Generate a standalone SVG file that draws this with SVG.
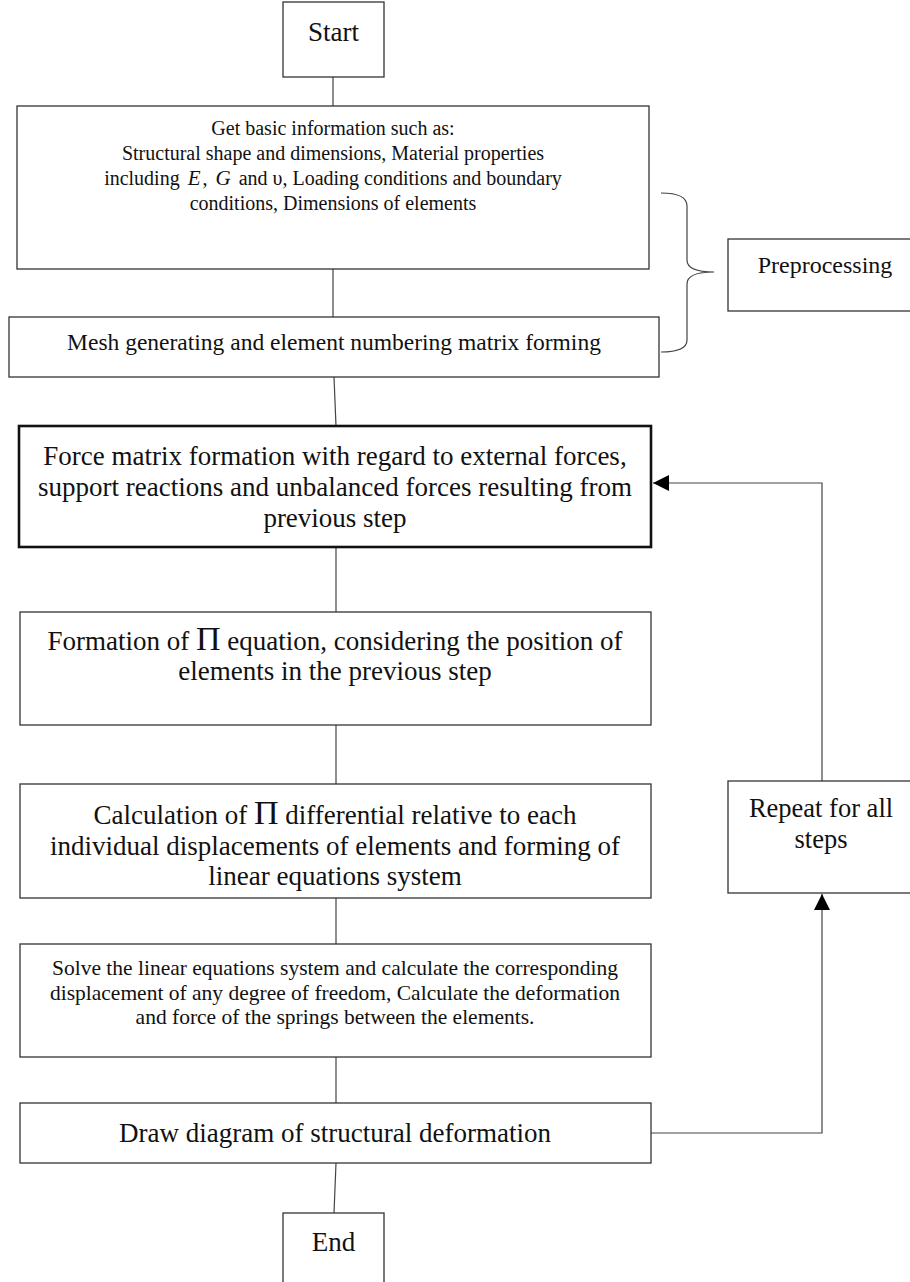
<svg xmlns="http://www.w3.org/2000/svg" width="910" height="1282" viewBox="0 0 910 1282">
<style>
.box{fill:#fff;stroke:#333;stroke-width:1.3}
.thick{fill:#fff;stroke:#111;stroke-width:2.6}
.t{font-family:"Liberation Serif","Times New Roman",serif;fill:#111;text-anchor:middle}
.c{fill:none;stroke:#444;stroke-width:1.2}
.pi{font-size:34px}
.big{font-size:27px}
.m{font-style:italic;font-size:21px}
</style>
<defs>
<marker id="ah" viewBox="0 0 16 16" refX="16" refY="8" markerWidth="16" markerHeight="16" markerUnits="userSpaceOnUse" orient="auto">
<path d="M0,0 L16,8 L0,16 Z" fill="#000"/>
</marker>
</defs>
<g id="connectors">
<line class="c" x1="333" y1="77" x2="333" y2="106"/>
<line class="c" x1="333" y1="269" x2="333" y2="317"/>
<line class="c" x1="334" y1="377" x2="336" y2="426"/>
<line class="c" x1="336" y1="547" x2="336" y2="612"/>
<line class="c" x1="336" y1="725" x2="336" y2="784"/>
<line class="c" x1="336" y1="898" x2="336" y2="944"/>
<line class="c" x1="336" y1="1057" x2="336" y2="1103"/>
<line class="c" x1="336" y1="1163" x2="334" y2="1213"/>
<polyline class="c" points="822,781 822,483 653,483" marker-end="url(#ah)"/>
<polyline class="c" points="651,1133 822,1133 822,894" marker-end="url(#ah)"/>
<path class="c" d="M661,193 Q687,193 687,206 L687,260 Q687,272 714,272 Q687,272 687,284 L687,340 Q687,352 661,352"/>
</g>
<g id="start">
<rect class="box" x="283" y="2" width="101" height="75"/>
<text class="t" x="333.5" y="41" font-size="27">Start</text>
</g>
<g id="basic-info">
<rect class="box" x="17" y="106" width="632" height="163"/>
<text class="t" x="333" y="135" font-size="20">Get basic information such as:</text>
<text class="t" x="333" y="160" font-size="20">Structural shape and dimensions, Material properties</text>
<text class="t" x="333" y="185" font-size="20">including <tspan class="m" dx="3">E</tspan><tspan dx="2">,</tspan> <tspan class="m" dx="3">G</tspan> <tspan dx="3">and</tspan> υ, Loading conditions and boundary</text>
<text class="t" x="333" y="210" font-size="20">conditions, Dimensions of elements</text>
</g>
<g id="mesh">
<rect class="box" x="9" y="317" width="650" height="60"/>
<text class="t" x="334" y="350" font-size="23.5">Mesh generating and element numbering matrix forming</text>
</g>
<g id="preprocessing">
<rect class="box" x="728" y="239" width="190" height="72"/>
<text class="t" x="825" y="273" font-size="24">Preprocessing</text>
</g>
<g id="force">
<rect class="thick" x="19" y="426" width="632" height="121"/>
<text class="t big" x="335" y="465">Force matrix formation with regard to external forces,</text>
<text class="t big" x="335" y="496">support reactions and unbalanced forces resulting from</text>
<text class="t big" x="335" y="527">previous step</text>
</g>
<g id="formation">
<rect class="box" x="20" y="612" width="631" height="113"/>
<text class="t big" x="335" y="650">Formation of <tspan class="pi">Π</tspan> equation, considering the position of</text>
<text class="t big" x="335" y="680">elements in the previous step</text>
</g>
<g id="calculation">
<rect class="box" x="20" y="784" width="631" height="114"/>
<text class="t big" x="335" y="824">Calculation of <tspan class="pi">Π</tspan> differential relative to each</text>
<text class="t big" x="335" y="855">individual displacements of elements and forming of</text>
<text class="t big" x="335" y="885">linear equations system</text>
</g>
<g id="solve">
<rect class="box" x="20" y="944" width="631" height="113"/>
<text class="t" x="335" y="975" font-size="21.5">Solve the linear equations system and calculate the corresponding</text>
<text class="t" x="335" y="1000" font-size="21.5">displacement of any degree of freedom, Calculate the deformation</text>
<text class="t" x="335" y="1024" font-size="21.5">and force of the springs between the elements.</text>
</g>
<g id="draw">
<rect class="box" x="20" y="1103" width="631" height="60"/>
<text class="t big" x="335" y="1142">Draw diagram of structural deformation</text>
</g>
<g id="repeat">
<rect class="box" x="728" y="781" width="190" height="112"/>
<text class="t" x="821" y="817" font-size="26.5">Repeat for all</text>
<text class="t" x="821" y="848" font-size="26.5">steps</text>
</g>
<g id="end">
<rect class="box" x="283" y="1213" width="101" height="90"/>
<text class="t" x="333.5" y="1251" font-size="27">End</text>
</g>
</svg>
